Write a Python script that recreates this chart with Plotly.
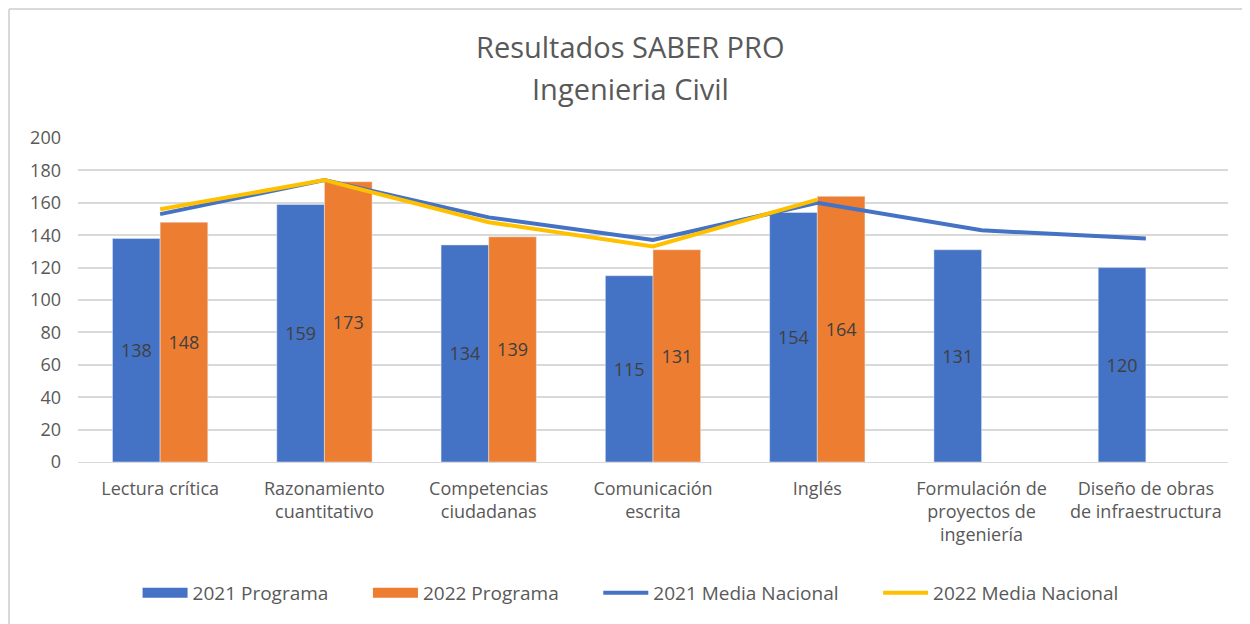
import plotly.graph_objects as go

categories = ["Lectura crítica", "Razonamiento<br>cuantitativo", "Competencias<br>ciudadanas",
              "Comunicación<br>escrita", "Inglés", "Formulación de<br>proyectos de<br>ingeniería",
              "Diseño de obras<br>de infraestructura"]
prog_2021 = [138, 159, 134, 115, 154, 131, 120]
prog_2022 = [148, 173, 139, 131, 164, None, None]
media_2021 = [153, 174, 151, 137, 160, 143, 138]
media_2022 = [156, 174, 148, 133, 162]
y_ticks = list(range(0, 201, 20))
title_lines = ["Resultados SABER PRO", "Ingenieria Civil"]

FONT = "'Open Sans', sans-serif"
TXT = "#595959"
BLUE = "#4472C4"
ORANGE = "#ED7D31"
YELLOW = "#FFC000"
NB = "\u00a0"

fig = go.Figure()
fig.add_trace(go.Bar(name="2021 Programa", x=categories, y=prog_2021, marker_color=BLUE,
                     text=prog_2021, textposition="inside", insidetextanchor="middle",
                     textfont=dict(size=18, color="#404040", family=FONT), textangle=0,
                     showlegend=False))
fig.add_trace(go.Bar(name="2022 Programa", x=categories, y=prog_2022, marker_color=ORANGE,
                     text=prog_2022, textposition="inside", insidetextanchor="middle",
                     textfont=dict(size=18, color="#404040", family=FONT), textangle=0,
                     showlegend=False))
fig.add_trace(go.Scatter(name="2021 Media Nacional", x=categories, y=media_2021, mode="lines",
                         line=dict(color=BLUE, width=4), showlegend=False))
fig.add_trace(go.Scatter(name="2022 Media Nacional", x=categories[:len(media_2022)], y=media_2022,
                         mode="lines", line=dict(color=YELLOW, width=4), showlegend=False))

# legend entries (Excel-style keys)
legend_items = [("2021 Programa", BLUE, 13, 7), ("2022 Programa", ORANGE, 13, 7),
                ("2021 Media Nacional", BLUE, 4, 7), ("2022 Media Nacional", YELLOW, 4, 0)]
for name, col, w, pad in legend_items:
    fig.add_trace(go.Scatter(name=name + NB * pad, x=[None], y=[None], mode="lines",
                             line=dict(color=col, width=w), showlegend=True))

annotations = [
    dict(text=title_lines[0], xref="paper", yref="paper", x=0.48, y=1 + (130 - 38) / 324,
         xanchor="center", yanchor="middle", showarrow=False,
         font=dict(size=29, color=TXT, family=FONT)),
    dict(text=title_lines[1], xref="paper", yref="paper", x=0.48, y=1 + (130 - 80) / 324,
         xanchor="center", yanchor="middle", showarrow=False,
         font=dict(size=29, color=TXT, family=FONT)),
]

fig.update_layout(
    width=1242, height=616,
    paper_bgcolor="white", plot_bgcolor="white",
    margin=dict(l=70, r=22, t=130, b=162, autoexpand=False),
    barmode="group", bargap=0.42, bargroupgap=0,
    font=dict(family=FONT, color=TXT, size=18),
    annotations=annotations,
    xaxis=dict(showgrid=False, showline=True, linecolor="#D9D9D9", linewidth=1,
               tickfont=dict(size=18, color=TXT), ticks="", automargin=False,
               ticklabelstandoff=10),
    yaxis=dict(range=[0, 200], tickvals=y_ticks, showgrid=True, gridcolor="#D9D9D9", gridwidth=1.5,
               zeroline=False, showline=False, tickfont=dict(size=18, color=TXT), ticks="",
               ticklabelstandoff=16, automargin=False),
    legend=dict(orientation="h", x=0.4805, xanchor="center", y=-0.404, yanchor="middle",
                font=dict(size=19, color=TXT), traceorder="normal", itemwidth=45),
    shapes=[
        dict(type="line", xref="paper", yref="paper", x0=-0.06, x1=1.02, y0=1.398, y1=1.398,
             line=dict(color="#D9D9D9", width=2)),
        dict(type="line", xref="paper", yref="paper", x0=-0.06, x1=-0.06, y0=1.398, y1=-0.5,
             line=dict(color="#D9D9D9", width=2)),
    ],
)

fig.write_html("out.html")
